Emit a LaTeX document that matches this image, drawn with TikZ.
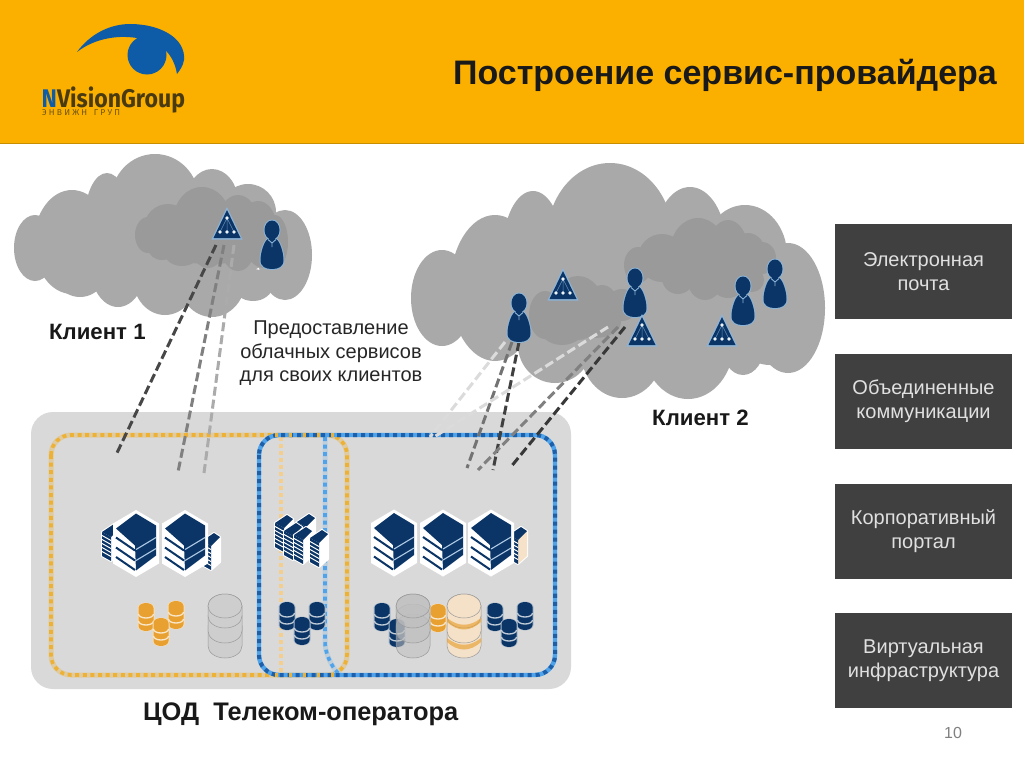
\documentclass[tikz,border=0pt]{standalone}
\usepackage{fontspec}
\setmainfont{Liberation Sans}
\newfontfamily\logofont{Fira Sans}
\definecolor{hdr}{HTML}{FBB000}
\definecolor{navy}{HTML}{0A3566}
\definecolor{halo}{HTML}{8DB4D8}
\definecolor{cloudA}{HTML}{A9A9A9}
\definecolor{cloudB}{HTML}{9A9A9A}
\definecolor{panel}{HTML}{D9D9D9}
\definecolor{boxc}{HTML}{404040}
\definecolor{orangeD}{HTML}{EDB135}
\definecolor{drumO}{HTML}{E8A030}
\definecolor{blueL}{HTML}{4FA3EA}
\definecolor{blueD}{HTML}{1D5FA8}
\definecolor{peach}{HTML}{F6E2C8}
\definecolor{logoB}{HTML}{0E5CA8}
\definecolor{logoT}{HTML}{4A3A10}
\tikzset{
  x=1pt,y=-1pt,
  sidebox/.style={fill=boxc,text=white!88!black,minimum width=177pt,minimum height=95pt,align=center,inner sep=0pt,font=\fontsize{20}{24}\selectfont},
  lbl/.style={font=\bfseries\fontsize{22.2}{26}\selectfont,inner sep=0pt,text=black!90},
  link/.style={line width=3pt,dash pattern=on 9pt off 4pt},
}
\newcommand\lk{\kern2.2pt}
\newcommand\person[2]{\begin{scope}[shift={(#1,#2)}]
  \fill[halo] (0,-15) ellipse [x radius=8.5pt,y radius=10.5pt];
  \fill[halo] (-4,-7) .. controls (-9,-5) and (-12.5,8) .. (-12.5,15) .. controls (-12.5,23) and (-6,25) .. (0,25) .. controls (6,25) and (12.5,23) .. (12.5,15) .. controls (12.5,8) and (9,-5) .. (4,-7) -- cycle;
  \fill[navy] (-4,-6) .. controls (-8,-4) and (-11.5,8) .. (-11.5,15) .. controls (-11.5,22) and (-6,24) .. (0,24) .. controls (6,24) and (11.5,22) .. (11.5,15) .. controls (11.5,8) and (8,-4) .. (4,-6) -- cycle;
  \fill[navy] (0,-15) ellipse [x radius=7.5pt,y radius=9.5pt];
  \draw[halo,line width=.9pt] (-4,-5.5) -- (0,-2) -- (4,-5.5) (0,-2) -- (0,2);
\end{scope}}
\newcommand\tria[2]{\begin{scope}[shift={(#1,#2)}]
  \fill[halo] (0,-1) -- (15.5,31.5) -- (-15.5,31.5) -- cycle;
  \fill[navy] (0,2) -- (13.5,30) -- (-13.5,30) -- cycle;
  \draw[halo!70!navy,line width=.5pt] (0,10) -- (0,24) (0,10) -- (-7,24) (0,10) -- (7,24);
  \fill[white!85!halo] (0,10) circle (1.9pt) (0,24) circle (1.9pt) (-7,24) circle (1.9pt) (7,24) circle (1.9pt);
\end{scope}}
\newcommand\rack[3]{\begin{scope}[shift={(#1,#2)}]
  \fill[white,line join=round,draw=white,line width=2pt] (-9,-11) -- (3,-19) -- (9,-15) -- (9,10) -- (0,18) -- (-9,13) -- cycle;
  \fill[#3] (0,-6) -- (9,-15) -- (9,10) -- (0,18) -- cycle;
  \fill[navy] (-9,-11) -- (3,-19) -- (9,-15) -- (0,-6) -- cycle;
  \fill[navy] (-9,-11) -- (0,-6) -- (0,18) -- (-9,13) -- cycle;
  \foreach \k in {-5,-1,3,7,11}{\draw[white,line width=1pt] (-9,\k-2.5) -- (0,\k+2.5);}
\end{scope}}
\newcommand\hexserver[2]{\begin{scope}[shift={(#1,#2)}]
  \fill[white] (0,-33.5) -- (23,-20) -- (23,20) -- (0,33.5) -- (-23,20) -- (-23,-20) -- cycle;
  \fill[navy] (0,-30) -- (20,-18) -- (20,12) -- (0,27) -- (-1,2) -- (-20,-15) -- cycle;
  \draw[halo!70!white,line width=1.1pt] (0,6) -- (20,-6) (0,17) -- (20,5);
  \draw[navy,line width=2pt] (-20,-6) -- (-1,7) (-20,4) -- (-1,17) (-20,13.5) -- (-1,26.5);
\end{scope}}
\newcommand\smalldrum[3]{\begin{scope}[shift={(#1,#2)}]
  \fill[#3!35!white] (-8.5,-9) arc[start angle=180,end angle=0,x radius=8.5pt,y radius=5.5pt] -- (8.5,9) arc[start angle=0,end angle=-180,x radius=8.5pt,y radius=5.5pt] -- cycle;
  \fill[#3] (-7.5,-9) arc[start angle=180,end angle=0,x radius=7.5pt,y radius=5pt] -- (7.5,9) arc[start angle=0,end angle=-180,x radius=7.5pt,y radius=5pt] -- cycle;
  \foreach \k in {-3,4}{\draw[white!75!#3,line width=1.3pt] (-7.5,\k) arc[start angle=180,end angle=360,x radius=7.5pt,y radius=4pt];}
\end{scope}}
\newcommand\bigband[3]{% top centre, bottom centre, fill
  \filldraw[fill=#3,draw=gray!80,line width=.5pt] (-17,#1) arc[start angle=180,end angle=0,x radius=17pt,y radius=12pt] -- (17,#2) arc[start angle=0,end angle=-180,x radius=17pt,y radius=12pt] -- cycle;}
\newcommand\bigdrum[4]{\begin{scope}[shift={(#1,#2)},fill opacity=#4]
  \bigband{0}{20}{#3}
  \bigband{-10}{5}{#3}
  \bigband{-20}{-10}{#3}
  \filldraw[fill=#3,draw=gray!80,line width=.5pt] (0,-20) ellipse [x radius=17pt,y radius=12pt];
\end{scope}}
\begin{document}
\begin{tikzpicture}
\useasboundingbox (0,0) rectangle (1024,768);
\fill[white] (0,0) rectangle (1024,768);
% header
\fill[hdr] (0,0) rectangle (1024,143);
\fill[hdr!80!black] (0,143) rectangle (1024,144);
\fill[logoB] (77,52) .. controls (90,34) and (110,24) .. (130,24) .. controls (160,24) and (186,38) .. (184,60) .. controls (183,66) and (180,70) .. (177,74) .. controls (175,62) and (170,54) .. (163,48) -- (142,39) .. controls (120,34) and (95,38) .. cycle;
\fill[logoB] (147,55) circle (19.5pt);
\node[inner sep=0pt,anchor=base west,text=logoT] (logoname) at (41.5,107.5) {\smash{\scalebox{.905}[1]{\logofont\bfseries\fontsize{25.5}{26}\selectfont\textcolor{logoB}{N}VisionGroup}}};
\node[inner sep=0pt,anchor=base west,text=logoT!80!hdr] (logosub) at (42,115.5) {\logofont\fontsize{8.5}{9}\selectfont Э\lk Н\lk В\lk И\lk Ж\lk Н\lk\ \lk Г\lk Р\lk У\lk П};
\node[anchor=base east,inner sep=0pt,font=\bfseries\fontsize{34}{38}\selectfont,text=black!90] (title) at (997,84) {Построение сервис-провайдера};
% cloud 1
\foreach \a/\b/\c/\d in {35/248/21/33,72/242/38/52,107/218/22/45,155/200/44/46,212/202/26/33,248/212/28/28,285/255/27/45,253/285/20/16,212/278/34/39,165/278/32/37,118/265/28/42,80/262/30/35,160/245/120/40}{
  \fill[cloudA] (\a,\b) ellipse [x radius=\c pt,y radius=\d pt];}
\foreach \a/\b/\c/\d in {148/235/13/18,168/228/24/24,202/218/28/31,238/222/20/27,258/225/18/24,275/242/13/27,182/252/18/14,162/248/14/12,208/248/16/20,238/250/16/21,265/250/18/18,210/238/65/26}{
  \fill[cloudB] (\a,\b) ellipse [x radius=\c pt,y radius=\d pt];}
% cloud 2
\foreach \a/\b/\c/\d in {442/298/31/48,495/288/45/73,533/250/30/59,610/238/63/75,690/245/36/58,745/255/42/50,788/308/37/65,770/320/40/45,743/343/22/32,688/342/46/57,622/348/42/50,555/345/37/38,620/285/175/60}{
  \fill[cloudA] (\a,\b) ellipse [x radius=\c pt,y radius=\d pt];}
\foreach \a/\b/\c/\d in {545/315/16/24,578/308/26/32,602/305/16/20,622/305/16/16,562/325/24/20,595/322/26/16,638/265/14/18,662/258/24/24,698/252/28/34,728/250/20/30,748/255/18/22,762/258/14/16,678/278/16/16,705/278/18/22,728/280/18/18,752/280/12/12,700/262/60/22}{
  \fill[cloudB] (\a,\b) ellipse [x radius=\c pt,y radius=\d pt];}
% panel
\node[fill=panel,rounded corners=22pt,minimum width=540pt,minimum height=277pt,inner sep=0pt] (panel) at (301,550.5) {};
% dotted frames
\draw[peach!60!orangeD,line width=4pt,dash pattern=on 4pt off 3pt] (281,437) -- (281,675);
\draw[orangeD!35!panel,line width=5pt,rounded corners=20pt] (51,435) rectangle (347,675);
\draw[orangeD,line width=3.6pt,dash pattern=on 4pt off 3.6pt,rounded corners=20pt] (51,435) rectangle (347,675);
\draw[blueL!20!panel,line width=5pt,rounded corners=18pt] (325,437) -- (325,660) -- (340,675);
\draw[blueL,line width=3.6pt,dash pattern=on 4pt off 3.6pt,rounded corners=18pt] (325,437) -- (325,660) -- (340,675);
\draw[blueL,line width=4.4pt,rounded corners=20pt] (259,435) rectangle (555,675);
\draw[blueD,line width=4pt,dash pattern=on 4pt off 4pt,rounded corners=20pt] (259,435) rectangle (555,675);
\draw[orangeD,line width=3.6pt,dash pattern=on 3pt off 11pt] (275,435) -- (340,435) (275,675) -- (335,675);
% servers
\rack{111}{543}{white}
\rack{211}{552}{white}
\hexserver{136}{543.5}
\hexserver{185}{543.5}
\rack{284}{534}{white}\rack{306}{533}{white}\rack{293}{542}{white}\rack{303}{546}{white}\rack{319}{549}{white}
\rack{518}{546}{peach}
\hexserver{394}{543}
\hexserver{443}{543}
\hexserver{491}{543}
% drums
\smalldrum{146}{617}{drumO}\smalldrum{176}{615}{drumO}\smalldrum{161}{632}{drumO}
\bigdrum{225}{626}{panel!95!black}{1}
\smalldrum{287}{616}{navy}\smalldrum{317}{616}{navy}\smalldrum{302}{631}{navy}
\smalldrum{382}{617}{navy}\smalldrum{397}{633}{navy}
\smalldrum{438}{618}{drumO}
\bigdrum{413}{626}{gray!50}{.55}
\bigdrum{464}{626}{peach}{.9}
\foreach \k in {-8,12}{\fill[drumO,opacity=.65] (447,626+\k) .. controls (458,635+\k) and (470,635+\k) .. (481,626+\k) -- (481,630+\k) .. controls (470,640+\k) and (458,640+\k) .. (447,630+\k) -- cycle;}
\smalldrum{495}{617}{navy}\smalldrum{525}{616}{navy}\smalldrum{509}{633}{navy}
% connector ends
\coordinate (a1) at (216,245);\coordinate (a2) at (116,455);
\coordinate (b1) at (224,245);\coordinate (b2) at (178,472);
\coordinate (c1) at (234,245);\coordinate (c2) at (204,473);
\coordinate (d1) at (505,342);\coordinate (d2) at (430,437);
\coordinate (e1) at (512,342);\coordinate (e2) at (467,468);
\coordinate (f1) at (519,342);\coordinate (f2) at (493,470);
\coordinate (g1) at (608,327);\coordinate (g2) at (434,437);
\coordinate (h1) at (618,327);\coordinate (h2) at (478,470);
\coordinate (i1) at (625,327);\coordinate (i2) at (510,468);
\draw[link,color=black!72] (a1) -- (a2);
\draw[link,color=black!50] (b1) -- (b2);
\draw[link,color=black!33] (c1) -- (c2);
\draw[link,color=black!14] (d1) -- (d2);
\draw[link,color=black!55] (e1) -- (e2);
\draw[link,color=black!75] (f1) -- (f2);
\draw[link,color=black!14] (g1) -- (g2);
\draw[link,color=black!50] (h1) -- (h2);
\draw[link,color=black!78] (i1) -- (i2);
% icons on clouds
\tria{227}{208}
\person{272}{245}
\person{519}{318}
\tria{563}{269}
\person{635}{293}
\tria{642}{315}
\tria{722}{315}
\person{743}{301}
\person{775}{284}
% labels
\node[lbl,anchor=base west] (k1) at (49,339) {Клиент 1};
\node[lbl,anchor=base west] (k2) at (652,425) {Клиент 2};
\node[lbl,anchor=base west,font=\bfseries\fontsize{25.4}{28}\selectfont] (cod) at (143,720) {ЦОД\ \ Телеком-оператора};
\node[inner sep=0pt,align=center,font=\fontsize{20}{23.5}\selectfont,text=black!85] (svc) at (331,353.5) {Предоставление\\облачных сервисов\\для своих клиентов};
% side boxes
\node[sidebox] (s1) at (923.5,271.5) {Электронная\\почта};
\node[sidebox] (s2) at (923.5,401.5) {Объединенные\\коммуникации};
\node[sidebox] (s3) at (923.5,531.5) {Корпоративный\\портал};
\node[sidebox] (s4) at (923.5,660.5) {Виртуальная\\инфраструктура};
\node[inner sep=0pt,font=\fontsize{16}{18}\selectfont,text=black!50] (pg) at (953,733) {10};
\end{tikzpicture}
\end{document}
